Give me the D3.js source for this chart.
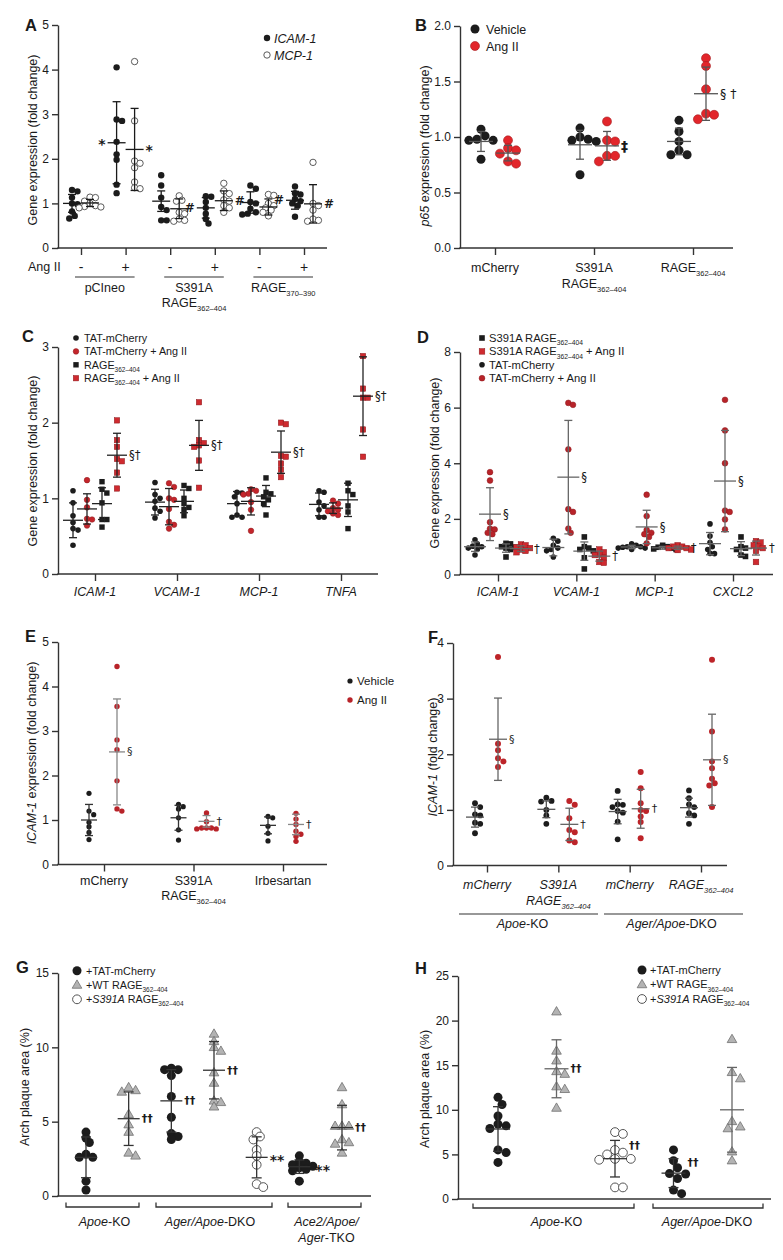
<!DOCTYPE html>
<html><head><meta charset="utf-8">
<script src="https://cdn.jsdelivr.net/npm/d3@7"></script>
<style>
body{margin:0;background:#fff}
svg{display:block}
text{font-family:"Liberation Sans",Arial,Helvetica,sans-serif;fill:#1a1a1a}
text.ann{font-family:"DejaVu Sans","Liberation Sans",sans-serif}
</style>
</head><body>
<svg id="fig" width="783" height="1260"></svg>
<script>
// ---------------- DATA ----------------
// Panel A
const A_xTicks = ["-", "+", "-", "+", "-", "+"];
const A_constructs = ["pCIneo", "S391A|RAGE_{362–404}", "RAGE_{370–390}"];
const A_icam = [
  [1.30, 1.27, 1.13, 1.00, 0.98, 0.82, 0.72, 0.66],
  [4.05, 2.88, 2.85, 2.38, 2.10, 1.98, 1.42, 1.23],
  [1.63, 1.40, 1.13, 0.92, 0.85, 0.62, 0.62],
  [1.16, 1.15, 1.03, 0.90, 0.77, 0.65, 0.55],
  [1.40, 1.33, 1.03, 1.00, 0.88, 0.80, 0.77, 0.75],
  [1.38, 1.23, 1.20, 1.10, 1.05, 1.00, 0.95, 0.70]
];
const A_mcp = [
  [1.14, 1.13, 1.05, 1.00, 0.95, 0.93, 0.92, 0.90],
  [4.18, 2.85, 1.95, 1.90, 1.80, 1.48, 1.35, 1.33],
  [1.17, 1.07, 1.05, 0.80, 0.77, 0.65, 0.62, 0.60],
  [1.45, 1.28, 1.22, 1.08, 1.05, 0.95, 0.90, 0.80],
  [1.20, 1.18, 1.00, 0.95, 0.90, 0.85, 0.80, 0.72],
  [1.92, 1.00, 0.95, 0.85, 0.65, 0.62, 0.60]
];
const A_icamMean = [1.00, 2.36, 1.05, 0.90, 1.02, 1.07];
const A_icamSD   = [0.20, 0.92, 0.23, 0.23, 0.24, 0.20];
const A_mcpMean  = [1.01, 2.21, 0.88, 1.06, 0.92, 0.99];
const A_mcpSD    = [0.08, 0.92, 0.22, 0.22, 0.18, 0.43];

// Panel B
const B_cats = ["mCherry", "S391A|RAGE_{362–404}", "RAGE_{362–404}"];
const B_vehicle = [
  [1.07, 1.01, 0.98, 0.97, 0.97, 0.80],
  [1.08, 1.00, 0.98, 0.97, 0.96, 0.66],
  [1.15, 1.05, 0.96, 0.88, 0.84, 0.84]
];
const B_angII = [
  [0.97, 0.90, 0.88, 0.85, 0.78, 0.76],
  [1.14, 0.97, 0.96, 0.83, 0.83, 0.78],
  [1.71, 1.64, 1.43, 1.21, 1.20, 1.16]
];
const B_vehMean = [0.96, 0.93, 0.96], B_vehSD = [0.09, 0.13, 0.12];
const B_angMean = [0.855, 0.92, 1.39], B_angSD = [0.07, 0.13, 0.24];

// Panel C
const C_genes = ["ICAM-1", "VCAM-1", "MCP-1", "TNFA"];
const C_tat = [
  [1.10, 0.94, 0.77, 0.68, 0.60, 0.58, 0.38],
  [1.21, 1.05, 1.00, 0.96, 0.87, 0.83, 0.74],
  [1.08, 1.07, 1.02, 0.93, 0.78, 0.75, 0.75],
  [1.10, 1.08, 0.95, 0.90, 0.85, 0.75, 0.75]
];
const C_tatAng = [
  [1.24, 0.98, 0.88, 0.73, 0.72, 0.64],
  [1.20, 1.15, 1.00, 0.98, 0.86, 0.69, 0.65, 0.60],
  [1.12, 1.10, 1.06, 1.05, 0.95, 0.85, 0.57],
  [0.97, 0.93, 0.87, 0.85, 0.83, 0.80, 0.78]
];
const C_rage = [
  [1.22, 1.12, 1.07, 0.94, 0.72, 0.72, 0.62],
  [1.17, 1.13, 1.00, 0.93, 0.88, 0.85, 0.77],
  [1.27, 1.08, 1.06, 1.02, 0.98, 0.93, 0.78],
  [1.20, 1.10, 1.05, 0.90, 0.82, 0.60]
];
const C_rageAng = [
  [2.03, 1.77, 1.68, 1.52, 1.49, 1.34, 1.13],
  [2.27, 1.77, 1.73, 1.70, 1.68, 1.50, 1.14],
  [2.00, 1.98, 1.56, 1.55, 1.46, 1.38, 1.28],
  [2.88, 2.45, 2.33, 2.33, 1.91, 1.55]
];
const C_tatMean = [0.71, 0.95, 0.93, 0.92], C_tatSD = [0.23, 0.17, 0.16, 0.15];
const C_tatAngMean = [0.86, 0.89, 0.96, 0.87], C_tatAngSD = [0.20, 0.24, 0.18, 0.07];
const C_rageMean = [0.93, 0.96, 1.03, 0.98], C_rageSD = [0.21, 0.15, 0.14, 0.22];
const C_rageAngMean = [1.57, 1.70, 1.61, 2.35], C_rageAngSD = [0.29, 0.33, 0.28, 0.52];

// Panel D
const D_genes = ["ICAM-1", "VCAM-1", "MCP-1", "CXCL2"];
const D_tat = [
  [1.25, 1.10, 1.02, 1.00, 0.95, 0.90, 0.70],
  [1.30, 1.20, 1.05, 0.95, 0.90, 0.85, 0.63],
  [1.10, 1.05, 1.00, 1.00, 0.98, 0.95, 0.95, 0.90],
  [1.82, 1.38, 1.15, 1.00, 0.90, 0.76, 0.75]
];
const D_tatAng = [
  [3.68, 3.38, 1.88, 1.65, 1.62, 1.50, 1.45],
  [6.17, 6.10, 4.50, 2.35, 2.25, 1.65, 1.50],
  [2.87, 2.10, 1.60, 1.50, 1.45, 1.35, 1.12],
  [6.28, 5.18, 4.00, 2.30, 2.25, 1.98, 1.62]
];
const D_s391 = [
  [1.12, 1.10, 1.00, 0.98, 0.95, 0.90, 0.63],
  [1.35, 1.00, 0.95, 0.90, 0.85, 0.60, 0.20],
  [1.05, 1.00, 0.98, 0.95, 0.92, 0.90],
  [1.35, 1.00, 0.95, 0.90, 0.70, 0.65]
];
const D_s391Ang = [
  [1.08, 1.05, 0.98, 0.95, 0.90, 0.85, 0.80],
  [0.90, 0.80, 0.72, 0.70, 0.60, 0.45, 0.42],
  [1.05, 1.00, 1.00, 0.95, 0.90, 0.88, 0.95],
  [1.20, 1.15, 1.05, 1.00, 0.95, 0.85, 0.45]
];
const D_tatMean = [1.00, 0.97, 0.99, 1.11], D_tatSD = [0.17, 0.30, 0.06, 0.40];
const D_tatAngMean = [2.17, 3.50, 1.71, 3.36], D_tatAngSD = [0.95, 2.04, 0.60, 1.82];
const D_s391Mean = [0.95, 0.84, 0.96, 0.93], D_s391SD = [0.15, 0.33, 0.05, 0.25];
const D_s391AngMean = [0.93, 0.66, 0.96, 0.95], D_s391AngSD = [0.10, 0.18, 0.06, 0.25];

// Panel E
const E_cats = ["mCherry", "S391A|RAGE_{362–404}", "Irbesartan"];
const E_vehicle = [
  [1.60, 1.20, 1.12, 0.95, 0.85, 0.72, 0.56],
  [1.35, 1.30, 1.25, 1.05, 0.78, 0.55],
  [1.08, 1.05, 0.86, 0.70, 0.53]
];
const E_angII = [
  [4.45, 3.55, 2.80, 2.58, 1.88, 1.25, 1.20],
  [1.16, 0.96, 0.82, 0.82, 0.82, 0.80, 0.80],
  [1.15, 1.02, 0.90, 0.75, 0.68, 0.63, 0.52]
];
const E_vehMean = [1.00, 1.05, 0.88], E_vehSD = [0.35, 0.28, 0.19];
const E_angMean = [2.53, 0.97, 0.90], E_angSD = [1.19, 0.13, 0.23];

// Panel F
const F_cats = ["mCherry", "S391A|RAGE_{362–404}", "mCherry", "RAGE_{362–404}"];
const F_strains = ["*Apoe*-KO", "*Ager/Apoe*-DKO"];
const F_vehicle = [
  [1.12, 1.05, 0.92, 0.90, 0.77, 0.75, 0.58],
  [1.22, 1.16, 1.15, 1.00, 0.90, 0.75],
  [1.34, 1.10, 1.09, 1.05, 0.98, 0.95, 0.79, 0.47],
  [1.35, 1.21, 1.10, 1.05, 0.94, 0.90, 0.75]
];
const F_angII = [
  [3.75, 2.19, 2.07, 1.93, 1.87, 1.77],
  [1.16, 1.09, 0.85, 0.64, 0.60, 0.45, 0.42],
  [1.68, 1.39, 1.12, 1.00, 0.98, 0.88, 0.78, 0.49],
  [3.70, 2.41, 1.87, 1.75, 1.56, 1.48, 1.44, 1.05]
];
const F_vehMean = [0.87, 1.01, 0.97, 1.04], F_vehSD = [0.18, 0.15, 0.22, 0.17];
const F_angMean = [2.27, 0.74, 1.02, 1.90], F_angSD = [0.74, 0.29, 0.35, 0.82];

// Panel G
const G_strains = ["*Apoe*-KO", "*Ager/Apoe*-DKO", "*Ace2/Apoe/*|*Ager*-TKO"];
const G_tat = [
  [4.3, 3.9, 3.6, 2.8, 2.6, 2.6, 1.0, 0.4],
  [8.6, 8.5, 8.5, 8.1, 6.7, 5.3, 4.2, 4.0, 3.8],
  [2.7, 2.3, 2.2, 2.1, 2.0, 1.9, 1.8, 1.7, 1.0]
];
const G_wt = [
  [7.3, 7.1, 7.0, 5.5, 4.8, 4.3, 2.9, 2.7],
  [10.9, 10.4, 10.0, 9.75, 8.3, 7.6, 6.4, 6.3, 6.0],
  [7.3, 6.15, 4.7, 4.7, 4.7, 3.8, 3.6, 3.5, 2.9]
];
const G_s391a = [[4.3, 4.0, 3.8, 3.1, 2.7, 2.1, 0.8, 0.6]];
const G_tatMean = [2.6, 6.4, 1.97], G_tatSD = [1.37, 2.1, 0.45];
const G_wtMean = [5.2, 8.46, 4.6], G_wtSD = [1.8, 1.93, 1.5];
const G_s391Mean = [2.6], G_s391SD = [1.38];

// Panel H
const H_strains = ["*Apoe*-KO", "*Ager/Apoe*-DKO"];
const H_tat = [
  [11.4, 10.6, 9.3, 8.4, 8.2, 7.9, 5.5, 5.2, 4.1],
  [5.5, 4.3, 3.5, 2.85, 2.8, 2.3, 1.0, 0.6]
];
const H_wt = [
  [21.0, 16.6, 15.5, 14.3, 14.0, 12.6, 12.3, 10.2],
  [17.9, 14.2, 13.5, 8.7, 8.1, 7.9, 5.3, 4.3]
];
const H_s391a = [[7.5, 7.3, 5.5, 5.2, 5.0, 4.5, 4.5, 4.4, 1.3, 1.3]];
const H_tatMean = [7.85, 2.9], H_tatSD = [2.5, 1.62];
const H_wtMean = [14.6, 10.0], H_wtSD = [3.25, 4.75];
const H_s391Mean = [4.52], H_s391SD = [2.05];

// ---------------- DRAWING ----------------
const svg = d3.select("#fig");
const AXIS = "#333";
const BLACK = "#1c1c1c";
const RED = "#c4252b";
const FF = '"Liberation Sans",Arial,Helvetica,sans-serif';

function rich(g, str, x, y, o = {}) {
  const size = o.size || 12.5, lh = o.lh || 15;
  str.split("|").forEach((line, li) => {
    const t = g.append("text").attr("x", x).attr("y", y + li * lh)
      .attr("text-anchor", o.anchor || "middle").attr("font-size", size);
    if (o.italic) t.attr("font-style", "italic");
    if (o.weight) t.attr("font-weight", o.weight);
    const re = /(\*[^*]*\*|_\{[^}]*\})/g;
    let last = 0, m; const parts = [];
    while ((m = re.exec(line))) {
      if (m.index > last) parts.push({ t: line.slice(last, m.index) });
      const s = m[0];
      if (s[0] === "*") parts.push({ t: s.slice(1, -1), it: true });
      else parts.push({ t: s.slice(2, -1), sub: true });
      last = re.lastIndex;
    }
    if (last < line.length) parts.push({ t: line.slice(last) });
    let sub = false;
    parts.forEach(p => {
      const ts = t.append("tspan").text(p.t);
      if (p.it) ts.attr("font-style", "italic");
      if (p.sub) { ts.attr("font-size", size * 0.6).attr("dy", size * 0.28); sub = true; }
      else if (sub) { ts.attr("dy", -size * 0.28); sub = false; }
    });
  });
}

function drawMarker(g, x, y, s) {
  if (s.shape === "circle") {
    g.append("circle").attr("cx", x).attr("cy", y).attr("r", s.r)
      .attr("fill", s.fill).attr("stroke", s.stroke || "none").attr("stroke-width", s.sw || 1);
  } else if (s.shape === "square") {
    g.append("rect").attr("x", x - s.r).attr("y", y - s.r).attr("width", 2 * s.r).attr("height", 2 * s.r)
      .attr("fill", s.fill).attr("stroke", s.stroke || "none").attr("stroke-width", s.sw || 1);
  } else {
    g.append("path").attr("transform", `translate(${x},${y + s.r * 0.1})`)
      .attr("d", d3.symbol(d3.symbolTriangle, s.r * s.r * 1.9)())
      .attr("fill", s.fill).attr("stroke", s.stroke || "none").attr("stroke-width", s.sw || 1);
  }
}

function swarm(ys, cx, rad, step) {
  const placed = [], xs = [];
  d3.range(ys.length).sort((a, b) => ys[a] - ys[b]).forEach(i => {
    for (let k = 0; k < 80; k++) {
      const off = k === 0 ? 0 : (k % 2 ? 1 : -1) * Math.ceil(k / 2) * step;
      const px = cx + off;
      if (placed.every(q => Math.hypot(q[0] - px, q[1] - ys[i]) >= 2 * rad)) {
        xs[i] = px; placed.push([px, ys[i]]); return;
      }
    }
    xs[i] = cx;
  });
  return xs;
}

function styleAxis(a) {
  a.attr("color", AXIS).attr("font-family", FF).attr("font-size", 12);
  a.selectAll("path,line").attr("stroke-width", 1.4);
  a.selectAll("text").attr("fill", "#1a1a1a");
}

function panel(p) {
  const g = svg.append("g");
  const y = d3.scaleLinear().domain(p.yDomain).range(p.yRange);
  const x = d3.scalePoint().domain(d3.range(p.nCols)).range(p.xRange);
  const base = y(0);
  g.append("g").attr("transform", `translate(${p.axisX0},0)`)
    .call(d3.axisLeft(y).tickValues(p.yTicks).tickFormat(p.yFormat || d3.format("d"))
      .tickSize(6).tickSizeOuter(0).tickPadding(3))
    .call(styleAxis);
  g.append("line").attr("x1", p.axisX0 - 0.7).attr("x2", p.axisX1)
    .attr("y1", base).attr("y2", base).attr("stroke", AXIS).attr("stroke-width", 1.4);
  if (p.xTicks) {
    g.append("g").attr("transform", `translate(0,${base})`)
      .call(d3.axisBottom(x).tickSize(7).tickFormat(""))
      .call(styleAxis).call(a => a.select(".domain").remove());
  }
  const colX = (s, gi) => x(s.cols ? s.cols[gi] : gi) + (s.offset || 0);
  p.series.forEach(s => {
    s.data.forEach((vals, gi) => {
      if (!vals) return;
      const cx = colX(s, gi);
      const ys = vals.map(v => y(v));
      const xs = swarm(ys, cx, s.r * (p.coll || 0.85), s.r * (p.step || 0.9));
      const pg = g.append("g");
      vals.forEach((v, i) => drawMarker(pg, xs[i], ys[i], s));
      const m = y(s.mean[gi]);
      const hi = y(s.mean[gi] + s.sd[gi]);
      const lo = y(Math.max(0, s.mean[gi] - s.sd[gi]));
      const eg = g.append("g").attr("stroke", s.err).attr("stroke-width", 1.3);
      eg.append("line").attr("x1", cx).attr("x2", cx).attr("y1", hi).attr("y2", lo);
      eg.append("line").attr("x1", cx - p.capHalf).attr("x2", cx + p.capHalf).attr("y1", hi).attr("y2", hi);
      eg.append("line").attr("x1", cx - p.capHalf).attr("x2", cx + p.capHalf).attr("y1", lo).attr("y2", lo);
      eg.append("line").attr("x1", cx - p.meanHalf).attr("x2", cx + p.meanHalf).attr("y1", m).attr("y2", m);
    });
  });
  (p.annots || []).forEach(a => {
    const s = p.series[a.s];
    const cx = colX(s, a.g);
    const left = a.side === "left";
    g.append("text").attr("class", "ann")
      .attr("x", (left ? cx - p.meanHalf - 2 : cx + p.meanHalf + 2) + (a.dx || 0))
      .attr("y", y(s.mean[a.g]) + (a.dy || 0)).attr("dominant-baseline", "central")
      .attr("text-anchor", left ? "end" : "start")
      .attr("font-size", a.size || p.annotSize || 12).attr("font-weight", a.weight || p.annotWeight || "normal")
      .text(a.text);
  });
  return { g, x, y };
}

function ytitle(str, x, cy, size) {
  const g = svg.append("g").attr("transform", `translate(${x},${cy}) rotate(-90)`);
  rich(g, str, 0, 0, { anchor: "middle", size: size || 12.5 });
}
function letter(t, x, y) {
  svg.append("text").attr("x", x).attr("y", y).attr("font-size", 16.5)
    .attr("font-weight", "bold").text(t);
}
function legend(items, mx, y0, dy, tx, size) {
  items.forEach((it, i) => {
    const yy = y0 + i * dy;
    drawMarker(svg, mx, yy, it.style);
    rich(svg, it.label, tx, yy + size * 0.36, { anchor: "start", size, italic: it.italic });
  });
}
function bracket(x0, x1, yb, h) {
  svg.append("path").attr("d", `M${x0},${yb - h}V${yb}H${x1}V${yb - h}`)
    .attr("fill", "none").attr("stroke", AXIS).attr("stroke-width", 1.3);
}

// styles
const stA_fill = { shape: "circle", r: 3.2, fill: BLACK, err: "#1a1a1a" };
const stA_open = { shape: "circle", r: 3.2, fill: "#fff", stroke: "#4a4a4a", sw: 0.9, err: "#1a1a1a" };
const stB_veh = { shape: "circle", r: 4.5, fill: BLACK, err: "#555" };
const stB_ang = { shape: "circle", r: 4.5, fill: "#e2262b", stroke: "#a51c20", sw: 0.6, err: "#555" };
const stC_dot = { shape: "circle", r: 2.8, fill: BLACK, err: "#222" };
const stC_rdot = { shape: "circle", r: 2.8, fill: RED, stroke: "#8c1b1f", sw: 0.5, err: "#222" };
const stC_sq = { shape: "square", r: 2.7, fill: BLACK, err: "#222" };
const stC_rsq = { shape: "square", r: 2.7, fill: "#cf2a2f", stroke: "#8c1b1f", sw: 0.5, err: "#222" };
const stD_dot = { shape: "circle", r: 2.8, fill: BLACK, err: "#666" };
const stD_rdot = { shape: "circle", r: 2.9, fill: "#b82329", stroke: "#8c1b1f", sw: 0.5, err: "#666" };
const stD_sq = { shape: "square", r: 2.8, fill: BLACK, err: "#666" };
const stD_rsq = { shape: "square", r: 2.8, fill: "#cf2a2f", stroke: "#8c1b1f", sw: 0.5, err: "#666" };
const stE_veh = { shape: "circle", r: 2.6, fill: BLACK, err: "#333" };
const stE_ang = { shape: "circle", r: 2.7, fill: "#b82329", err: "#888" };
const stF_veh = { shape: "circle", r: 2.9, fill: BLACK, err: "#555" };
const stF_ang = { shape: "circle", r: 3.0, fill: "#bd2429", err: "#666" };
const stG_tat = { shape: "circle", r: 4.5, fill: BLACK, err: "#333" };
const stG_wt = { shape: "triangle", r: 4.6, fill: "#b3b3b3", stroke: "#707070", sw: 0.8, err: "#333" };
const stG_s391 = { shape: "circle", r: 4.4, fill: "#fff", stroke: "#555", sw: 1, err: "#333" };
const stH_wt = Object.assign({}, stG_wt, { err: "#666" });

// ---- Panel A ----
const pA = panel({
  yDomain: [0, 5], yRange: [248, 25], yTicks: [0, 1, 2, 3, 4, 5],
  axisX0: 58, axisX1: 327, nCols: 6, xRange: [81, 304], xTicks: true,
  meanHalf: 9, capHalf: 4, annotSize: 12, annotWeight: "bold", coll: 0.8, step: 0.85,
  series: [
    Object.assign({ data: A_icam, mean: A_icamMean, sd: A_icamSD, offset: -9 }, stA_fill),
    Object.assign({ data: A_mcp, mean: A_mcpMean, sd: A_mcpSD, offset: 9 }, stA_open)
  ],
  annots: [
    { s: 0, g: 1, text: "*", side: "left", dy: 1, size: 14 }, { s: 1, g: 1, text: "*", side: "right", dy: 1, size: 14 },
    { s: 0, g: 3, text: "#", side: "left" }, { s: 1, g: 3, text: "#", side: "right" },
    { s: 0, g: 5, text: "#", side: "left" }, { s: 1, g: 5, text: "#", side: "right" }
  ]
});
letter("A", 25, 30.5);
ytitle("Gene expression (fold change)", 37, 140);
legend([
  { style: stA_fill, label: "ICAM-1", italic: true },
  { style: stA_open, label: "MCP-1", italic: true }
], 267, 38, 17, 274, 12.5);
svg.append("text").attr("x", 28).attr("y", 271).attr("font-size", 12.5).text("Ang II");
A_xTicks.forEach((t, i) => svg.append("text").attr("x", pA.x(i)).attr("y", 272)
  .attr("text-anchor", "middle").attr("font-size", 14).text(t));
A_constructs.forEach((c, k) => {
  const x0 = pA.x(2 * k) - 6, x1 = pA.x(2 * k + 1) + 9;
  svg.append("line").attr("x1", x0).attr("x2", x1).attr("y1", 277).attr("y2", 277)
    .attr("stroke", AXIS).attr("stroke-width", 1.2);
  rich(svg, c, (x0 + x1) / 2, 292, { size: 12.5, lh: 15 });
});

// ---- Panel B ----
const pB = panel({
  yDomain: [0, 2], yRange: [248, 26], yTicks: [0, 0.5, 1, 1.5, 2], yFormat: d3.format(".1f"),
  axisX0: 460, axisX1: 733, nCols: 3, xRange: [495, 693], xTicks: true,
  meanHalf: 12, capHalf: 4, annotSize: 12.5,
  series: [
    Object.assign({ data: B_vehicle, mean: B_vehMean, sd: B_vehSD, offset: -14 }, stB_veh),
    Object.assign({ data: B_angII, mean: B_angMean, sd: B_angSD, offset: 13 }, stB_ang)
  ],
  annots: [{ s: 1, g: 1, text: "‡", size: 14, weight: "bold" }, { s: 1, g: 2, text: "§ †" }]
});
letter("B", 415, 30.5);
ytitle("*p65* expression  (fold change)", 429, 146);
legend([
  { style: stB_veh, label: "Vehicle" },
  { style: stB_ang, label: "Ang II" }
], 475, 29, 17, 486, 12.5);
B_cats.forEach((c, i) => rich(svg, c, pB.x(i), 272, { size: 12.5, lh: 16 }));

// ---- Panel C ----
const pC = panel({
  yDomain: [0, 3], yRange: [574, 347], yTicks: [0, 1, 2, 3],
  axisX0: 58, axisX1: 378, nCols: 4, xRange: [95, 341], xTicks: true,
  meanHalf: 10, capHalf: 4, annotSize: 11.5,
  series: [
    Object.assign({ data: C_tat, mean: C_tatMean, sd: C_tatSD, offset: -22 }, stC_dot),
    Object.assign({ data: C_tatAng, mean: C_tatAngMean, sd: C_tatAngSD, offset: -8 }, stC_rdot),
    Object.assign({ data: C_rage, mean: C_rageMean, sd: C_rageSD, offset: 7 }, stC_sq),
    Object.assign({ data: C_rageAng, mean: C_rageAngMean, sd: C_rageAngSD, offset: 22 }, stC_rsq)
  ],
  annots: [0, 1, 2, 3].map(g => ({ s: 3, g, text: "§†" }))
});
letter("C", 22, 341.5);
ytitle("Gene expression  (fold change)", 37, 461);
legend([
  { style: stC_dot, label: "TAT-mCherry" },
  { style: stC_rdot, label: "TAT-mCherry + Ang II" },
  { style: stC_sq, label: "RAGE_{362–404}" },
  { style: stC_rsq, label: "RAGE_{362–404} + Ang II" }
], 76, 338, 13.4, 84, 10.8);
C_genes.forEach((c, i) => rich(svg, c, pC.x(i), 596, { size: 12.5, italic: true }));

// ---- Panel D ----
const pD = panel({
  yDomain: [0, 8], yRange: [574.5, 352], yTicks: [0, 2, 4, 6, 8],
  axisX0: 460, axisX1: 773, nCols: 4, xRange: [498, 733], xTicks: true,
  meanHalf: 11, capHalf: 4, annotSize: 11.5, coll: 0.75, step: 0.8,
  series: [
    Object.assign({ data: D_tat, mean: D_tatMean, sd: D_tatSD, offset: -23 }, stD_dot),
    Object.assign({ data: D_tatAng, mean: D_tatAngMean, sd: D_tatAngSD, offset: -8 }, stD_rdot),
    Object.assign({ data: D_s391, mean: D_s391Mean, sd: D_s391SD, offset: 8 }, stD_sq),
    Object.assign({ data: D_s391Ang, mean: D_s391AngMean, sd: D_s391AngSD, offset: 23 }, stD_rsq)
  ],
  annots: [0, 1, 2, 3].map(g => ({ s: 1, g, text: "§" }))
    .concat([0, 1, 2, 3].map(g => ({ s: 3, g, text: "†" })))
});
letter("D", 417, 342.5);
ytitle("Gene expression (fold change)", 439, 463);
legend([
  { style: stD_sq, label: "S391A RAGE_{362–404}" },
  { style: stD_rsq, label: "S391A RAGE_{362–404} + Ang II" },
  { style: stD_dot, label: "TAT-mCherry" },
  { style: stD_rdot, label: "TAT-mCherry + Ang II" }
], 482, 338, 13.4, 489, 11.2);
D_genes.forEach((c, i) => rich(svg, c, pD.x(i), 596, { size: 12.5, italic: true }));

// ---- Panel E ----
const pE = panel({
  yDomain: [0, 5], yRange: [864.5, 642], yTicks: [0, 1, 2, 3, 4, 5],
  axisX0: 58, axisX1: 327, nCols: 3, xRange: [104, 283], xTicks: true,
  meanHalf: 8, capHalf: 4, annotSize: 11,
  series: [
    Object.assign({ data: E_vehicle, mean: E_vehMean, sd: E_vehSD, offset: -15 }, stE_veh),
    Object.assign({ data: E_angII, mean: E_angMean, sd: E_angSD, offset: 13 }, stE_ang)
  ],
  annots: [{ s: 1, g: 0, text: "§" }, { s: 1, g: 1, text: "†" }, { s: 1, g: 2, text: "†" }]
});
letter("E", 25, 641.5);
ytitle("*ICAM-1* expression (fold change)", 36, 753);
legend([
  { style: stE_veh, label: "Vehicle" },
  { style: stE_ang, label: "Ang II" }
], 350, 681, 19, 357, 11.5);
E_cats.forEach((c, i) => rich(svg, c, pE.x(i), 885, { size: 12.5, lh: 15 }));

// ---- Panel F ----
const pF = panel({
  yDomain: [0, 4], yRange: [865.5, 643], yTicks: [0, 1, 2, 3, 4],
  axisX0: 453, axisX1: 727, nCols: 4, xRange: [487, 701], xTicks: true,
  meanHalf: 9, capHalf: 4, annotSize: 11,
  series: [
    Object.assign({ data: F_vehicle, mean: F_vehMean, sd: F_vehSD, offset: -12 }, stF_veh),
    Object.assign({ data: F_angII, mean: F_angMean, sd: F_angSD, offset: 11 }, stF_ang)
  ],
  annots: [{ s: 1, g: 0, text: "§" }, { s: 1, g: 1, text: "†" }, { s: 1, g: 2, text: "†" }, { s: 1, g: 3, text: "§" }]
});
letter("F", 428, 642.5);
ytitle("*ICAM-1*  (fold change)", 437, 757);
F_cats.forEach((c, i) => rich(svg, c, pF.x(i), 889, { size: 12.5, lh: 16, italic: true }));
[[459, 598], [604, 743]].forEach((r, k) => {
  svg.append("line").attr("x1", r[0]).attr("x2", r[1]).attr("y1", 914).attr("y2", 914)
    .attr("stroke", AXIS).attr("stroke-width", 1.2);
  rich(svg, F_strains[k], (r[0] + r[1]) / 2 - 6 + k * 4, 928, { size: 12.5 });
});

// ---- Panel G ----
const pG = panel({
  yDomain: [0, 15], yRange: [1196, 973], yTicks: [0, 5, 10, 15],
  axisX0: 58, axisX1: 371, nCols: 7, xRange: [86, 342], xTicks: false,
  meanHalf: 11, capHalf: 5, annotSize: 11, annotWeight: "bold", coll: 0.62, step: 0.75,
  series: [
    Object.assign({ data: G_tat, mean: G_tatMean, sd: G_tatSD, cols: [0, 2, 5] }, stG_tat),
    Object.assign({ data: G_wt, mean: G_wtMean, sd: G_wtSD, cols: [1, 3, 6] }, stG_wt),
    Object.assign({ data: G_s391a, mean: G_s391Mean, sd: G_s391SD, cols: [4] }, stG_s391)
  ],
  annots: [
    { s: 1, g: 0, text: "††" }, { s: 0, g: 1, text: "††" }, { s: 1, g: 1, text: "††" },
    { s: 2, g: 0, text: "**", dy: 3, size: 14 }, { s: 0, g: 2, text: "**", dy: 3, size: 14, dx: 3 }, { s: 1, g: 2, text: "††" }
  ]
});
letter("G", 16, 973.3);
ytitle("Arch plaque area (%)", 29, 1087);
legend([
  { style: stG_tat, label: "+TAT-mCherry" },
  { style: stG_wt, label: "+WT RAGE_{362–404}" },
  { style: stG_s391, label: "+*S391A* RAGE_{362–404}" }
], 77, 970.7, 14.3, 86, 10.8);
[[66, 139], [156, 272], [288, 361]].forEach((r, k) => {
  bracket(r[0], r[1], 1207, 4.5);
  rich(svg, G_strains[k], (r[0] + r[1]) / 2 + [2, -4, 2][k], 1226, { size: 12.5, lh: 16 });
});

// ---- Panel H ----
const pH = panel({
  yDomain: [0, 25], yRange: [1199, 976], yTicks: [0, 5, 10, 15, 20, 25],
  axisX0: 458, axisX1: 771, nCols: 5, xRange: [498, 732], xTicks: false,
  meanHalf: 12, capHalf: 5, annotSize: 11, annotWeight: "bold",
  series: [
    Object.assign({ data: H_tat, mean: H_tatMean, sd: H_tatSD, cols: [0, 3] }, stG_tat),
    Object.assign({ data: H_wt, mean: H_wtMean, sd: H_wtSD, cols: [1, 4] }, stH_wt),
    Object.assign({ data: H_s391a, mean: H_s391Mean, sd: H_s391SD, cols: [2] }, stG_s391)
  ],
  annots: [{ s: 1, g: 0, text: "††" }, { s: 2, g: 0, text: "††", dy: -13 }, { s: 0, g: 1, text: "††", dy: -11 }]
});
letter("H", 415, 974);
ytitle("Arch plaque area (%)", 429, 1089);
legend([
  { style: stG_tat, label: "+TAT-mCherry" },
  { style: stG_wt, label: "+WT RAGE_{362–404}" },
  { style: stG_s391, label: "+*S391A* RAGE_{362–404}" }
], 642, 970, 14.5, 650, 11);
[[473, 634], [653, 763]].forEach((r, k) => {
  bracket(r[0], r[1], 1208, 4.5);
  rich(svg, H_strains[k], (r[0] + r[1]) / 2 + [3, -1][k], 1226, { size: 12.5 });
});
</script>
</body></html>
